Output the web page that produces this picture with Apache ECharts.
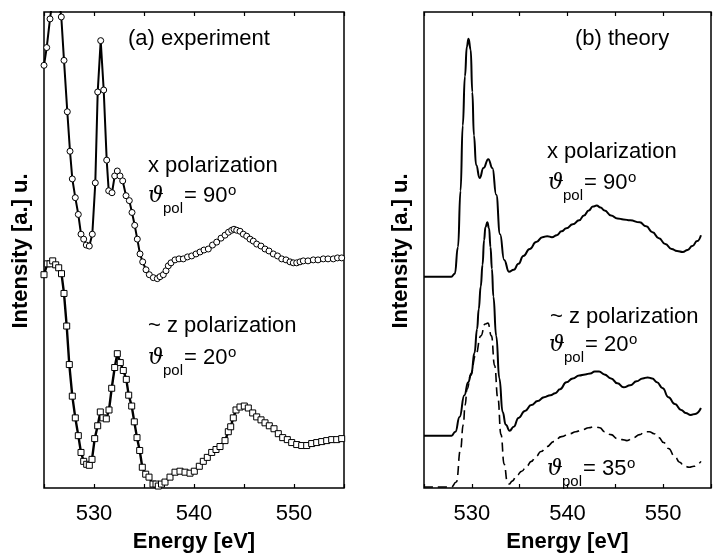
<!DOCTYPE html>
<html><head><meta charset="utf-8">
<script src="https://cdn.jsdelivr.net/npm/echarts@6/dist/echarts.min.js"></script>
<style>html,body{margin:0;padding:0;background:#fff}#c{width:714px;height:558px}</style>
</head><body><div id="c"></div>
<script>
// ---------- DATA ----------
// (a) experiment, x polarization (open circles)
const expXEnergy = [525.00,525.27,525.60,525.88,526.17,526.45,526.73,527.00,527.33,527.60,527.83,528.13,528.43,528.70,528.97,529.23,529.53,529.83,530.13,530.37,530.67,530.97,531.27,531.47,531.80,532.07,532.33,532.60,532.87,533.20,533.53,533.80,534.07,534.33,534.60,534.87,535.20,535.53,535.93,536.33,536.60,536.93,537.20,537.43,537.70,538.10,538.50,538.93,539.35,539.77,540.20,540.60,541.00,541.43,541.85,542.27,542.70,543.10,543.45,543.77,544.00,544.27,544.60,544.93,545.27,545.60,545.93,546.27,546.70,547.10,547.50,547.93,548.35,548.77,549.20,549.60,549.93,550.27,550.60,550.93,551.40,551.93,552.40,552.93,553.40,553.93,554.35,554.77];
const expXIntensity = [4.28,4.46,4.75,4.96,5.02,4.97,4.77,4.33,3.81,3.41,3.13,2.94,2.77,2.57,2.52,2.46,2.45,2.57,3.09,4.01,4.53,4.03,3.32,3.01,2.99,3.16,3.21,3.16,3.11,2.96,2.91,2.79,2.66,2.52,2.37,2.29,2.21,2.16,2.13,2.12,2.14,2.16,2.20,2.25,2.28,2.31,2.32,2.32,2.34,2.35,2.37,2.39,2.41,2.42,2.46,2.49,2.53,2.56,2.59,2.61,2.62,2.61,2.60,2.57,2.55,2.52,2.50,2.47,2.45,2.42,2.40,2.37,2.35,2.32,2.31,2.29,2.28,2.28,2.29,2.30,2.30,2.31,2.31,2.32,2.32,2.32,2.33,2.33];
// (a) experiment, ~z polarization (open squares)
const expZEnergy = [525.00,525.33,525.60,525.87,526.17,526.47,526.75,527.00,527.27,527.53,527.83,528.13,528.43,528.70,528.97,529.27,529.53,529.80,530.07,530.37,530.63,530.90,531.23,531.50,531.77,532.07,532.33,532.63,532.93,533.23,533.47,533.77,534.03,534.30,534.57,534.83,535.17,535.50,535.90,536.20,536.43,536.75,537.10,537.60,538.10,538.60,539.10,539.60,540.03,540.53,540.93,541.33,541.77,542.20,542.60,543.10,543.43,543.67,543.93,544.20,544.60,545.03,545.43,545.87,546.27,546.70,547.10,547.53,548.00,548.43,548.87,549.33,549.77,550.27,550.77,551.27,551.77,552.27,552.77,553.27,553.77,554.27,554.77];
const expZIntensity = [2.16,2.27,2.27,2.30,2.26,2.23,2.17,1.97,1.64,1.25,0.93,0.71,0.53,0.36,0.27,0.24,0.23,0.29,0.50,0.63,0.77,0.71,0.70,0.79,1.01,1.22,1.36,1.27,1.19,1.10,0.94,0.83,0.67,0.51,0.38,0.21,0.14,0.11,0.04,0.04,0.02,0.04,0.06,0.11,0.16,0.17,0.16,0.15,0.17,0.22,0.27,0.31,0.36,0.39,0.42,0.48,0.57,0.62,0.71,0.79,0.82,0.83,0.81,0.76,0.72,0.69,0.66,0.63,0.60,0.55,0.51,0.49,0.46,0.44,0.43,0.43,0.45,0.46,0.47,0.48,0.49,0.49,0.50];
// (b) theory, x polarization
const thXEnergy = [525.00,527.85,528.22,528.55,528.82,529.05,529.28,529.48,529.65,529.88,530.05,530.22,530.45,530.82,531.22,531.72,532.15,532.55,532.95,533.38,533.88,534.38,534.88,535.38,536.05,536.72,537.38,537.88,538.38,538.88,539.38,539.88,540.55,541.22,541.72,542.22,542.65,543.05,543.45,543.88,544.55,545.22,545.85,546.55,547.55,548.22,548.88,549.55,550.22,550.88,551.45,552.05,552.55,553.05,553.55,553.95];
const thXIntensity = [2.14,2.14,2.17,2.44,3.01,3.67,4.17,4.47,4.55,4.44,4.01,3.57,3.27,3.14,3.24,3.33,3.24,2.97,2.57,2.31,2.19,2.21,2.27,2.35,2.42,2.49,2.54,2.55,2.54,2.56,2.60,2.63,2.67,2.71,2.76,2.81,2.85,2.86,2.84,2.81,2.76,2.73,2.72,2.71,2.69,2.65,2.59,2.53,2.47,2.42,2.40,2.39,2.41,2.45,2.50,2.56];
// (b) theory, ~z polarization (20 deg)
const thZEnergy = [525.00,527.88,528.28,528.72,529.22,529.62,529.95,530.28,530.55,530.72,530.93,531.12,531.28,531.42,531.62,531.80,531.95,532.10,532.25,532.55,532.88,533.22,533.55,533.95,534.38,534.88,535.55,536.22,536.88,537.55,538.22,538.72,539.22,539.88,540.55,541.22,541.85,542.38,542.85,543.30,543.85,544.55,545.22,545.88,546.55,547.22,547.85,548.38,548.85,549.35,549.95,550.55,551.22,551.88,552.35,552.88,553.35,553.95];
const thZIntensity = [0.53,0.53,0.57,0.72,0.94,1.07,1.16,1.37,1.61,1.81,2.04,2.26,2.51,2.64,2.69,2.63,2.44,2.22,1.94,1.54,1.11,0.77,0.64,0.58,0.62,0.71,0.78,0.84,0.88,0.92,0.94,0.96,1.00,1.07,1.11,1.14,1.15,1.16,1.18,1.18,1.15,1.11,1.06,1.02,1.04,1.08,1.11,1.12,1.11,1.07,1.01,0.92,0.85,0.79,0.76,0.74,0.75,0.81];
// (b) theory, 35 deg (dashed)
const th35Energy = [525.00,527.85,528.38,528.82,529.10,529.30,529.50,529.88,530.38,530.95,531.38,531.68,532.05,532.38,532.72,533.05,533.38,533.72,533.90,534.22,534.72,535.22,535.72,536.22,536.72,537.22,537.88,538.55,539.38,540.22,540.88,541.55,542.22,542.80,543.38,543.88,544.55,545.22,545.72,546.22,546.88,547.55,548.05,548.55,549.05,549.55,550.05,550.55,551.22,551.72,552.22,552.72,553.22,553.55,553.95];
const th35Intensity = [0.01,0.01,0.06,0.39,0.64,0.84,1.00,1.14,1.34,1.54,1.66,1.67,1.54,1.24,0.91,0.54,0.24,0.06,0.04,0.07,0.13,0.17,0.22,0.27,0.32,0.37,0.42,0.47,0.52,0.55,0.57,0.59,0.61,0.62,0.61,0.57,0.54,0.50,0.49,0.48,0.51,0.54,0.57,0.57,0.55,0.51,0.46,0.40,0.32,0.26,0.22,0.21,0.22,0.24,0.27];
const tickLabels = [530, 540, 550];
const energyRange = [525, 555];
const intensityRange = [0, 4.82];

// ---------- CHART ----------
const FONT = '"Liberation Sans", Arial, Helvetica, sans-serif';
const zip = (e, v) => e.map((x, i) => [x, v[i]]);
const chart = echarts.init(document.getElementById('c'), null, {renderer: 'canvas'});

function xAxisDef(g, pos) {
  const bottom = pos === 'bottom';
  return {
    type: 'value', gridIndex: g, position: pos,
    min: energyRange[0], max: energyRange[1], interval: 5,
    axisLine: {show: false},
    axisTick: {show: true, inside: true, length: 4, lineStyle: {color: '#000', width: 1.2}},
    axisLabel: {show: bottom, margin: 15, color: '#000', fontSize: 22, fontFamily: FONT,
      formatter: v => tickLabels.includes(v) ? String(v) : ''},
    splitLine: {show: false},
    name: bottom ? 'Energy [eV]' : '', nameLocation: 'middle', nameGap: 43,
    nameTextStyle: {color: '#000', fontSize: 22, fontWeight: 'bold', fontFamily: FONT}
  };
}
function yAxisDef(g) {
  return {type: 'value', gridIndex: g, min: intensityRange[0], max: intensityRange[1],
    axisLine: {show: false}, axisTick: {show: false}, axisLabel: {show: false}, splitLine: {show: false}};
}
const gridBase = {top: 12, height: 482, show: true, borderColor: '#000', borderWidth: 1.5, backgroundColor: 'transparent'};

function txt(x, base, text, size, extra) {
  return Object.assign({type: 'text', x: x, y: base - 0.35 * size, silent: true,
    style: Object.assign({text: text, fill: '#000', fontSize: size, fontFamily: FONT, verticalAlign: 'middle', align: 'left'}, extra || {})});
}
function thetaLabel(X, B, deg) {
  return [
    txt(X, B, '\u03D1', 22, {fontFamily: '"DejaVu Serif", serif', fontStyle: 'italic'}),
    txt(X + 15, B + 10, 'pol', 15),
    txt(X + 36, B, '= ' + deg, 22),
    txt(X + 80, B - 8, 'o', 15)
  ];
}
const graphics = [].concat(
  [txt(128, 47, '(a) experiment', 22),
   txt(148, 174, 'x polarization', 22)],
  thetaLabel(148, 204, '90'),
  [txt(148, 334, '~ z polarization', 22)],
  thetaLabel(148, 366, '20'),
  [txt(575, 47, '(b) theory', 22),
   txt(547, 160, 'x polarization', 22)],
  thetaLabel(548, 191, '90'),
  [txt(550, 325, '~ z polarization', 22)],
  thetaLabel(549, 353, '20'),
  thetaLabel(547, 477, '35'),
  [{type: 'text', x: 21, y: 251, rotation: Math.PI / 2, silent: true,
    style: {text: 'Intensity [a.] u.', fill: '#000', fontSize: 22, fontWeight: 'bold', fontFamily: FONT, align: 'center', verticalAlign: 'middle'}},
   {type: 'text', x: 401, y: 251, rotation: Math.PI / 2, silent: true,
    style: {text: 'Intensity [a.] u.', fill: '#000', fontSize: 22, fontWeight: 'bold', fontFamily: FONT, align: 'center', verticalAlign: 'middle'}}]
);

const lineCommon = {type: 'line', animation: false, clip: true, emphasis: {disabled: true}, silent: true};
chart.setOption({
  animation: false,
  backgroundColor: '#fff',
  grid: [Object.assign({left: 44, width: 300}, gridBase), Object.assign({left: 424, width: 300}, gridBase)],
  xAxis: [xAxisDef(0, 'bottom'), xAxisDef(0, 'top'), xAxisDef(1, 'bottom'), xAxisDef(1, 'top')],
  yAxis: [yAxisDef(0), yAxisDef(1)],
  series: [
    Object.assign({}, lineCommon, {name: 'exp x', xAxisIndex: 0, yAxisIndex: 0, data: zip(expXEnergy, expXIntensity),
      symbol: 'circle', symbolSize: 6, showSymbol: true, showAllSymbol: true,
      lineStyle: {color: '#000', width: 2}, itemStyle: {color: '#fff', borderColor: '#000', borderWidth: 1}}),
    Object.assign({}, lineCommon, {name: 'exp z', xAxisIndex: 0, yAxisIndex: 0, data: zip(expZEnergy, expZIntensity),
      symbol: 'rect', symbolSize: 6, showSymbol: true, showAllSymbol: true,
      lineStyle: {color: '#000', width: 2.4}, itemStyle: {color: '#fff', borderColor: '#000', borderWidth: 1}}),
    Object.assign({}, lineCommon, {name: 'theory x', xAxisIndex: 2, yAxisIndex: 1, data: zip(thXEnergy, thXIntensity),
      symbol: 'none', smooth: 0.5, smoothMonotone: 'x', lineStyle: {color: '#000', width: 2}}),
    Object.assign({}, lineCommon, {name: 'theory z', xAxisIndex: 2, yAxisIndex: 1, data: zip(thZEnergy, thZIntensity),
      symbol: 'none', smooth: 0.5, smoothMonotone: 'x', lineStyle: {color: '#000', width: 2}}),
    Object.assign({}, lineCommon, {name: 'theory 35', xAxisIndex: 2, yAxisIndex: 1, data: zip(th35Energy, th35Intensity),
      symbol: 'none', smooth: 0.5, smoothMonotone: 'x', lineStyle: {color: '#000', width: 1.6, type: [9, 5]}})
  ],
  graphic: graphics
});
</script></body></html>
